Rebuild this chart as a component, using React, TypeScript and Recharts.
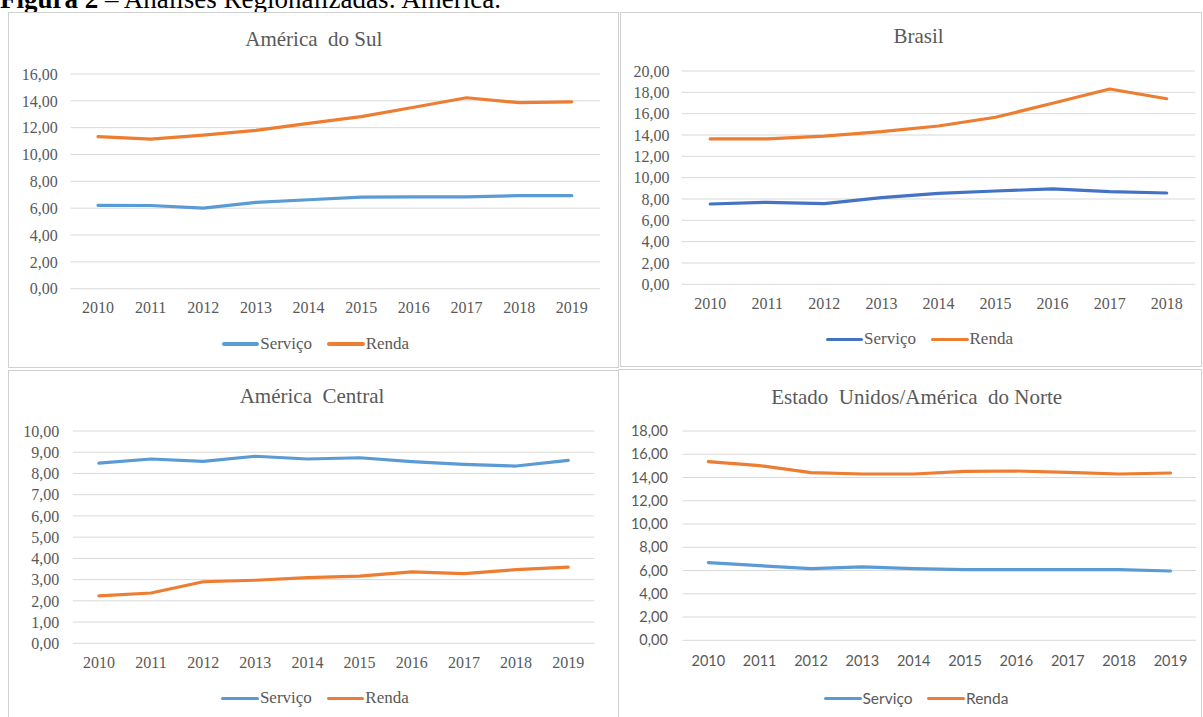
import React from 'react';
import { LineChart, Line, XAxis, YAxis, CartesianGrid, Legend } from 'recharts';

// ---------- data ----------
const yearsSul = ['2010', '2011', '2012', '2013', '2014', '2015', '2016', '2017', '2018', '2019'];
const servicoSul = [6.21, 6.2, 6.01, 6.44, 6.63, 6.83, 6.85, 6.85, 6.93, 6.93];
const rendaSul = [11.33, 11.15, 11.45, 11.8, 12.32, 12.82, 13.52, 14.23, 13.86, 13.93];
const ticksSul = [0, 2, 4, 6, 8, 10, 12, 14, 16];

const yearsBrasil = ['2010', '2011', '2012', '2013', '2014', '2015', '2016', '2017', '2018'];
const servicoBrasil = [7.53, 7.69, 7.56, 8.13, 8.53, 8.75, 8.94, 8.69, 8.56];
const rendaBrasil = [13.63, 13.63, 13.9, 14.31, 14.84, 15.66, 16.97, 18.31, 17.4];
const ticksBrasil = [0, 2, 4, 6, 8, 10, 12, 14, 16, 18, 20];

const yearsCentral = ['2010', '2011', '2012', '2013', '2014', '2015', '2016', '2017', '2018', '2019'];
const servicoCentral = [8.49, 8.68, 8.57, 8.81, 8.68, 8.74, 8.56, 8.43, 8.35, 8.62];
const rendaCentral = [2.23, 2.37, 2.9, 2.97, 3.09, 3.16, 3.36, 3.28, 3.47, 3.59];
const ticksCentral = [0, 1, 2, 3, 4, 5, 6, 7, 8, 9, 10];

const yearsNorte = ['2010', '2011', '2012', '2013', '2014', '2015', '2016', '2017', '2018', '2019'];
const servicoNorte = [6.68, 6.42, 6.16, 6.31, 6.16, 6.08, 6.08, 6.08, 6.08, 5.96];
const rendaNorte = [15.36, 15.02, 14.42, 14.3, 14.3, 14.53, 14.56, 14.45, 14.3, 14.39];
const ticksNorte = [0, 2, 4, 6, 8, 10, 12, 14, 16, 18];

const seriesNames = ['Serviço', 'Renda'];
const captionBold = 'Figura 2';
const captionRest = ' – Análises Regionalizadas: América.';

const toRows = (years: string[], s: number[], r: number[]) =>
  years.map((y, i) => ({ year: y, servico: s[i], renda: r[i] }));

const fmt = (v: number) => v.toFixed(2).replace('.', ',');

const SERIF = '"Liberation Serif", "Times New Roman", serif';
const SANS = 'Lato, "Liberation Sans", sans-serif';
const TEXT = '#595959';
const GRID = '#D9D9D9';
const ORANGE = '#ED7D31';

type PanelProps = {
  box: { x: number; y: number; w: number; h: number };
  plot: { l: number; t: number; r: number; b: number };
  pad: [number, number];
  title: string;
  titleX: number;
  titleBase: number;
  rows: any[];
  ticks: number[];
  servicoColor: string;
  font: string;
  tickFont: number;
  yGap: number;
  xMargin: number;
  legendX: number;
  legendY: number;
  legendFont: number;
  legendTextFont: string;
};

const makeLegend = (fontFamily: string, fontSize: number) => (props: any) => {
  const payload = [...(props.payload || [])].sort(
    (a: any, b: any) => seriesNames.indexOf(a.value) - seriesNames.indexOf(b.value)
  );
  return (
    <div style={{ display: 'flex', alignItems: 'center', height: 20, whiteSpace: 'nowrap' }}>
      {payload.map((p: any, i: number) => (
        <div key={i} style={{ display: 'flex', alignItems: 'center', marginRight: 15 }}>
          <span
            style={{
              display: 'inline-block',
              width: 37.5,
              height: 3.5,
              background: p.color,
              borderRadius: 2,
            }}
          />
          <span style={{ fontFamily, fontSize, color: TEXT, marginLeft: 1, lineHeight: '20px' }}>{p.value}</span>
        </div>
      ))}
    </div>
  );
};

const Panel = (p: PanelProps) => {
  const { box, plot } = p;
  const yW = plot.l - box.x;
  const margin = {
    top: plot.t - box.y,
    left: 0,
    right: box.x + box.w - plot.r,
    bottom: box.y + box.h - plot.b - 30,
  };
  const max = p.ticks[p.ticks.length - 1];
  return (
    <>
      <div
        style={{
          position: 'absolute',
          left: box.x,
          top: box.y,
          width: box.w,
          height: box.h,
          border: '1px solid #D0D0D0',
          boxSizing: 'border-box',
          background: '#fff',
        }}
      />
      <div
        style={{
          position: 'absolute',
          left: p.titleX - 250,
          width: 500,
          top: p.titleBase - 0.8375 * 21,
          textAlign: 'center',
          fontFamily: SERIF,
          fontSize: 21,
          lineHeight: '21px',
          color: TEXT,
          whiteSpace: 'pre',
        }}
      >
        {p.title}
      </div>
      <div style={{ position: 'absolute', left: box.x, top: box.y, fontFamily: p.font }}>
        <LineChart width={box.w} height={box.h} data={p.rows} margin={margin}>
          <CartesianGrid vertical={false} stroke={GRID} strokeWidth={1} />
          <XAxis
            dataKey="year"
            interval={0}
            axisLine={false}
            tickLine={false}
            tickSize={0}
            tickMargin={p.xMargin}
            padding={{ left: p.pad[0], right: p.pad[1] }}
            tick={{ fill: TEXT, fontSize: p.tickFont, fontFamily: p.font }}
          />
          <YAxis
            type="number"
            domain={[0, max]}
            ticks={p.ticks}
            interval={0}
            width={yW}
            axisLine={false}
            tickLine={false}
            tickSize={0}
            tickMargin={p.yGap}
            tickFormatter={fmt}
            tick={{ fill: TEXT, fontSize: p.tickFont, fontFamily: p.font }}
          />
          <Legend
            layout="horizontal"
            verticalAlign="middle"
            align="center"
            wrapperStyle={{ left: p.legendX - box.x, top: p.legendY - box.y - 10, width: 320, height: 20 }}
            content={makeLegend(p.legendTextFont, p.legendFont)}
          />
          <Line
            dataKey="servico"
            name={seriesNames[0]}
            stroke={p.servicoColor}
            strokeWidth={3.2}
            dot={false}
            activeDot={false}
            strokeLinecap="round"
            strokeLinejoin="round"
            isAnimationActive={false}
          />
          <Line
            dataKey="renda"
            name={seriesNames[1]}
            stroke={ORANGE}
            strokeWidth={3.2}
            dot={false}
            activeDot={false}
            strokeLinecap="round"
            strokeLinejoin="round"
            isAnimationActive={false}
          />
        </LineChart>
      </div>
    </>
  );
};

export default function App() {
  return (
    <div
      style={{
        position: 'absolute',
        left: 0,
        top: 0,
        width: 1203,
        height: 717,
        overflow: 'hidden',
        background: '#fff',
      }}
    >
      <div
        style={{
          position: 'absolute',
          left: 0,
          top: -13.6,
          fontFamily: SERIF,
          fontSize: 27,
          lineHeight: '27px',
          color: '#000',
          whiteSpace: 'pre',
        }}
      >
        <b>{captionBold}</b>
        {captionRest}
      </div>

      <Panel
        box={{ x: 8, y: 12, w: 611, h: 356 }}
        plot={{ l: 70.5, t: 74, r: 600, b: 288.7 }}
        pad={[27.5, 28.2]}
        title="América  do Sul"
        titleX={313.8}
        titleBase={46.7}
        rows={toRows(yearsSul, servicoSul, rendaSul)}
        ticks={ticksSul}
        servicoColor="#5B9BD5"
        font={SERIF}
        tickFont={16}
        yGap={12.8}
        xMargin={12.9}
        legendX={221.7}
        legendY={344}
        legendFont={17}
        legendTextFont={SERIF}
      />
      <Panel
        box={{ x: 620, y: 12, w: 582, h: 355 }}
        plot={{ l: 681.7, t: 71, r: 1195.2, b: 284.3 }}
        pad={[28.5, 28.5]}
        title="Brasil"
        titleX={918.6}
        titleBase={44}
        rows={toRows(yearsBrasil, servicoBrasil, rendaBrasil)}
        ticks={ticksBrasil}
        servicoColor="#4472C4"
        font={SERIF}
        tickFont={16}
        yGap={12.3}
        xMargin={13.8}
        legendX={825.6}
        legendY={339.3}
        legendFont={17}
        legendTextFont={SERIF}
      />
      <Panel
        box={{ x: 8, y: 370, w: 611, h: 360 }}
        plot={{ l: 72.8, t: 431, r: 594.3, b: 643.3 }}
        pad={[26.1, 26.1]}
        title="América  Central"
        titleX={312}
        titleBase={404}
        rows={toRows(yearsCentral, servicoCentral, rendaCentral)}
        ticks={ticksCentral}
        servicoColor="#5B9BD5"
        font={SERIF}
        tickFont={16}
        yGap={13.5}
        xMargin={13.5}
        legendX={221.4}
        legendY={698.3}
        legendFont={17}
        legendTextFont={SERIF}
      />
      <Panel
        box={{ x: 618, y: 369, w: 584, h: 360 }}
        plot={{ l: 682.6, t: 431, r: 1196.2, b: 640.3 }}
        pad={[25.7, 25.7]}
        title="Estado  Unidos/América  do Norte"
        titleX={916.7}
        titleBase={405}
        rows={toRows(yearsNorte, servicoNorte, rendaNorte)}
        ticks={ticksNorte}
        servicoColor="#5B9BD5"
        font={SANS}
        tickFont={14.5}
        yGap={14.7}
        xMargin={15}
        legendX={824}
        legendY={698.3}
        legendFont={15.5}
        legendTextFont={SANS}
      />
    </div>
  );
}
